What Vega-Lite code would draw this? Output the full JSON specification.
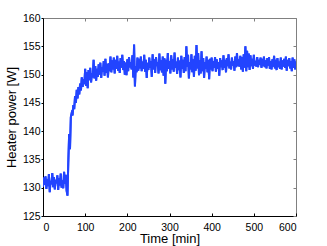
{
"$schema": "https://vega.github.io/schema/vega-lite/v6.json",
"width": 253, "height": 198,
"autosize": {"type": "none"},
"padding": {"left": 43, "top": 18, "right": 31, "bottom": 30},
"config": {"view": {"stroke": "#808080", "strokeWidth": 1}, "font": "Liberation Sans",
 "axis": {"grid": false, "domainColor": "black", "tickColor": "black", "tickSize": -3, "labelFontSize": 10.5, "labelColor": "black", "titleFontSize": 13, "titleFontWeight": "normal", "titleColor": "black", "labelFont": "Liberation Sans", "titleFont": "Liberation Sans"}},
"data": {"values": [
{"t":0,"p":130.2},{"t":2,"p":131.8},{"t":4,"p":130.5},{"t":6,"p":132.0},{"t":8,"p":129.8},{"t":10,"p":131.5},{"t":12,"p":130.3},{"t":14,"p":132.4},{"t":16,"p":129.2},{"t":18,"p":131.2},{"t":20,"p":130.6},{"t":22,"p":132.6},{"t":24,"p":130.1},{"t":26,"p":131.9},{"t":28,"p":129.7},{"t":30,"p":131.4},{"t":32,"p":130.8},{"t":34,"p":132.2},{"t":36,"p":129.6},{"t":38,"p":131.7},{"t":40,"p":130.4},{"t":42,"p":132.5},{"t":44,"p":130.0},{"t":46,"p":131.3},{"t":48,"p":129.9},{"t":50,"p":132.8},{"t":52,"p":130.7},{"t":54,"p":132.3},{"t":56,"p":129.5},
{"t":58,"p":128.6},{"t":60,"p":134.5},{"t":62,"p":139.5},{"t":64,"p":136.8},{"t":66,"p":142.5},{"t":68,"p":143.2},{"t":70,"p":142.8},{"t":72,"p":144.6},{"t":74,"p":143.9},{"t":76,"p":146.2},{"t":78,"p":145.0},{"t":80,"p":147.3},{"t":82,"p":145.8},{"t":84,"p":147.8},{"t":86,"p":146.5},{"t":88,"p":148.4},{"t":90,"p":147.2},{"t":92,"p":149.5},{"t":94,"p":147.8},{"t":96,"p":149.2},{"t":98,"p":148.3},{"t":100,"p":151.0},{"t":102,"p":148.0},{"t":104,"p":150.4},{"t":106,"p":147.6},{"t":108,"p":150.8},{"t":110,"p":149.0},{"t":112,"p":151.2},{"t":114,"p":148.6},{"t":116,"p":150.2},{"t":118,"p":149.5},{"t":120,"p":152.6},{"t":122,"p":149.3},{"t":124,"p":151.5},{"t":126,"p":148.9},{"t":128,"p":151.0},{"t":130,"p":149.6},{"t":132,"p":151.8},{"t":134,"p":150.0},{"t":136,"p":152.1},{"t":138,"p":149.4},{"t":140,"p":151.3},{"t":142,"p":150.5},{"t":144,"p":152.4},{"t":146,"p":149.8},{"t":148,"p":152.8},{"t":150,"p":150.3},{"t":152,"p":151.9},{"t":154,"p":149.5},{"t":156,"p":152.0},{"t":158,"p":150.6},{"t":160,"p":153.2},{"t":162,"p":150.4},{"t":164,"p":152.5},{"t":166,"p":150.9},{"t":168,"p":153.0},{"t":170,"p":150.2},{"t":172,"p":152.6},{"t":174,"p":151.0},{"t":176,"p":153.3},{"t":178,"p":150.7},{"t":180,"p":152.3},{"t":182,"p":150.3},{"t":184,"p":152.9},{"t":186,"p":151.2},{"t":188,"p":153.5},{"t":190,"p":150.8},{"t":192,"p":152.4},{"t":194,"p":150.0},{"t":196,"p":152.1},{"t":198,"p":149.9},
{"t":200,"p":152.7},{"t":202,"p":150.6},{"t":204,"p":153.1},{"t":206,"p":151.3},{"t":208,"p":152.2},{"t":210,"p":150.9},{"t":212,"p":153.4},{"t":214,"p":149.5},{"t":216,"p":155.3},{"t":218,"p":147.9},{"t":220,"p":151.5},{"t":222,"p":150.4},{"t":224,"p":153.0},{"t":226,"p":150.7},{"t":228,"p":152.8},{"t":230,"p":151.1},{"t":232,"p":153.2},{"t":234,"p":150.6},{"t":236,"p":152.3},{"t":238,"p":151.0},{"t":240,"p":153.5},{"t":242,"p":150.5},{"t":244,"p":152.6},{"t":246,"p":149.4},{"t":248,"p":152.1},{"t":250,"p":150.8},{"t":252,"p":153.0},{"t":254,"p":151.2},{"t":256,"p":152.4},{"t":258,"p":149.6},{"t":260,"p":153.6},{"t":262,"p":150.9},{"t":264,"p":152.7},{"t":266,"p":150.3},{"t":268,"p":153.1},{"t":270,"p":151.5},{"t":272,"p":152.2},{"t":274,"p":150.2},{"t":276,"p":153.7},{"t":278,"p":150.8},{"t":280,"p":152.5},{"t":282,"p":150.4},{"t":284,"p":153.2},{"t":286,"p":149.8},{"t":288,"p":152.9},{"t":290,"p":148.4},{"t":292,"p":152.6},{"t":294,"p":150.6},{"t":296,"p":153.8},{"t":298,"p":151.0},
{"t":300,"p":152.4},{"t":302,"p":150.2},{"t":304,"p":153.4},{"t":306,"p":150.9},{"t":308,"p":152.7},{"t":310,"p":150.5},{"t":312,"p":153.9},{"t":314,"p":151.2},{"t":316,"p":152.3},{"t":318,"p":150.1},{"t":320,"p":153.0},{"t":322,"p":150.8},{"t":324,"p":152.5},{"t":326,"p":149.5},{"t":328,"p":153.3},{"t":330,"p":151.0},{"t":332,"p":152.6},{"t":334,"p":150.3},{"t":336,"p":153.1},{"t":338,"p":150.6},{"t":340,"p":155.0},{"t":342,"p":151.4},{"t":344,"p":153.5},{"t":346,"p":149.3},{"t":348,"p":152.2},{"t":350,"p":150.9},{"t":352,"p":153.6},{"t":354,"p":150.4},{"t":356,"p":152.7},{"t":358,"p":149.6},{"t":360,"p":153.3},{"t":362,"p":150.7},{"t":364,"p":155.2},{"t":366,"p":151.1},{"t":368,"p":153.8},{"t":370,"p":149.9},{"t":372,"p":152.5},{"t":374,"p":150.2},{"t":376,"p":154.1},{"t":378,"p":150.6},{"t":380,"p":152.9},{"t":382,"p":149.4},{"t":384,"p":152.2},{"t":386,"p":151.0},{"t":388,"p":153.2},{"t":390,"p":150.4},{"t":392,"p":152.6},{"t":394,"p":149.2},{"t":396,"p":152.8},{"t":398,"p":150.9},
{"t":400,"p":153.0},{"t":402,"p":150.6},{"t":404,"p":152.4},{"t":406,"p":151.2},{"t":408,"p":153.1},{"t":410,"p":150.5},{"t":412,"p":152.7},{"t":414,"p":151.0},{"t":416,"p":152.2},{"t":418,"p":149.8},{"t":420,"p":152.9},{"t":422,"p":151.3},{"t":424,"p":152.5},{"t":426,"p":150.8},{"t":428,"p":153.4},{"t":430,"p":151.2},{"t":432,"p":152.6},{"t":434,"p":150.4},{"t":436,"p":152.9},{"t":438,"p":151.5},{"t":440,"p":153.6},{"t":442,"p":151.1},{"t":444,"p":152.3},{"t":446,"p":150.9},{"t":448,"p":153.0},{"t":450,"p":151.6},{"t":452,"p":152.4},{"t":454,"p":150.7},{"t":456,"p":153.2},{"t":458,"p":151.3},{"t":460,"p":153.8},{"t":462,"p":151.5},{"t":464,"p":152.7},{"t":466,"p":151.4},{"t":468,"p":153.3},{"t":470,"p":150.9},{"t":472,"p":153.1},{"t":474,"p":150.5},{"t":476,"p":153.6},{"t":478,"p":151.2},{"t":480,"p":155.0},{"t":482,"p":150.6},{"t":484,"p":154.2},{"t":486,"p":151.3},{"t":488,"p":153.7},{"t":490,"p":150.8},{"t":492,"p":153.4},{"t":494,"p":151.5},{"t":496,"p":152.8},{"t":498,"p":151.0},
{"t":500,"p":153.5},{"t":502,"p":151.6},{"t":504,"p":152.4},{"t":506,"p":151.4},{"t":508,"p":153.1},{"t":510,"p":151.3},{"t":512,"p":152.6},{"t":514,"p":151.7},{"t":516,"p":153.0},{"t":518,"p":151.2},{"t":520,"p":152.8},{"t":522,"p":151.5},{"t":524,"p":153.2},{"t":526,"p":151.3},{"t":528,"p":152.5},{"t":530,"p":151.1},{"t":532,"p":152.9},{"t":534,"p":151.6},{"t":536,"p":153.1},{"t":538,"p":151.0},{"t":540,"p":152.4},{"t":542,"p":150.9},{"t":544,"p":152.7},{"t":546,"p":151.4},{"t":548,"p":153.3},{"t":550,"p":151.1},{"t":552,"p":152.6},{"t":554,"p":150.8},{"t":556,"p":152.9},{"t":558,"p":151.3},{"t":560,"p":152.3},{"t":562,"p":151.0},{"t":564,"p":153.0},{"t":566,"p":150.9},{"t":568,"p":152.5},{"t":570,"p":151.4},{"t":572,"p":152.8},{"t":574,"p":151.2},{"t":576,"p":153.2},{"t":578,"p":150.7},{"t":580,"p":152.6},{"t":582,"p":151.5},{"t":584,"p":152.9},{"t":586,"p":151.1},{"t":588,"p":152.4},{"t":590,"p":150.6},{"t":592,"p":153.0},{"t":594,"p":151.2},{"t":596,"p":152.7},{"t":598,"p":150.9},{"t":600,"p":152.3}
]},
"layer": [
 {"mark": {"type": "line", "strokeWidth": 2, "color": "#2244ff", "clip": true},
  "encoding": {
   "x": {"field": "t", "type": "quantitative", "scale": {"domain": [0, 600], "nice": false}, "axis": {"orient": "top", "labels": false, "title": null, "values": [0,100,200,300,400,500,600], "domain": false, "tickColor": "#808080"}},
   "y": {"field": "p", "type": "quantitative", "scale": {"domain": [125, 160], "nice": false, "zero": false}, "axis": {"orient": "right", "labels": false, "title": null, "values": [125,130,135,140,145,150,155,160], "domain": false, "tickColor": "#808080"}}
  }},
 {"mark": {"type": "line", "strokeWidth": 2, "color": "#2244ff", "clip": true},
  "encoding": {
   "x": {"field": "t", "type": "quantitative", "scale": {"domain": [0, 600], "nice": false}, "axis": {"orient": "bottom", "title": "Time [min]", "values": [0,100,200,300,400,500,600], "labelPadding": 9, "titlePadding": 0}},
   "y": {"field": "p", "type": "quantitative", "scale": {"domain": [125, 160], "nice": false, "zero": false}, "axis": {"orient": "left", "title": "Heater power [W]", "values": [125,130,135,140,145,150,155,160], "tickSize": 2, "labelPadding": 1, "titlePadding": 4}}
  }}
],
"resolve": {"axis": {"x": "independent", "y": "independent"}}
}
